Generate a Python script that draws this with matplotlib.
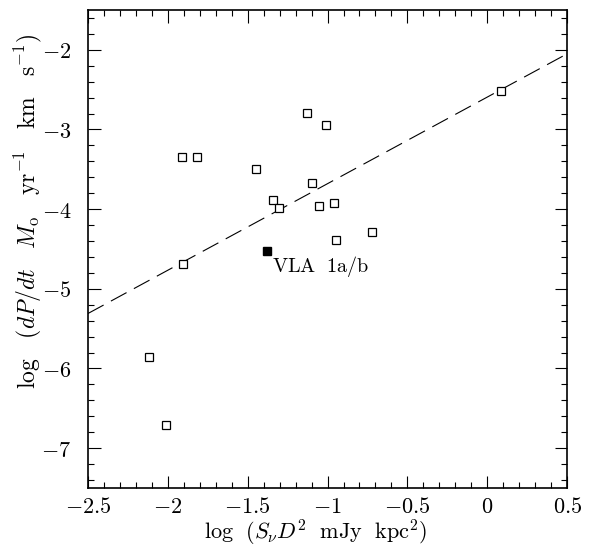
import matplotlib
matplotlib.use('Agg')
import matplotlib.pyplot as plt
from matplotlib.ticker import MultipleLocator, FuncFormatter

# open squares
sx = [0.084, -1.131, -1.010, -1.913, -1.815, -1.448, -1.099, -1.340, -1.302,
      -1.052, -0.960, -0.947, -0.720, -1.907, -2.118, -2.012]
sy = [-2.52, -2.79, -2.95, -3.34, -3.34, -3.49, -3.67, -3.88, -3.99,
      -3.96, -3.92, -4.39, -4.29, -4.69, -5.86, -6.71]

# VLA 1a/b
vla_x = -1.381
vla_y = -4.53

# fit line end points
line_x = [-2.5, 0.5]
line_y = [-5.31, -2.05]

plt.rcParams['mathtext.fontset'] = 'cm'
plt.rcParams['font.family'] = 'DejaVu Serif'

fig = plt.figure(figsize=(5.92, 5.48), dpi=100)
ax = fig.add_axes([0.1486, 0.1095, 0.8094, 0.8723])

ax.plot(line_x, line_y, color='k', lw=0.8, dashes=(16, 7.5))
ax.plot(sx, sy, 's', ms=6, mfc='white', mec='k', mew=0.9, ls='none')
ax.plot(vla_x, vla_y, 's', ms=5.5, mfc='k', mec='k', ls='none')
ax.text(-1.345, -4.72, r'$\rm VLA\ \ 1a/b$', fontsize=14.5, ha='left', va='center')

ax.set_xlim(-2.5, 0.5)
ax.set_ylim(-7.5, -1.5)
ax.xaxis.set_major_locator(MultipleLocator(0.5))
ax.xaxis.set_minor_locator(MultipleLocator(0.1))
ax.yaxis.set_major_locator(MultipleLocator(1))
ax.yaxis.set_minor_locator(MultipleLocator(0.2))
fmt = FuncFormatter(lambda v, p: r'$%g$' % v)
ax.xaxis.set_major_formatter(fmt)
ax.yaxis.set_major_formatter(fmt)
ax.tick_params(which='both', direction='in', top=True, right=True, width=0.8)
ax.tick_params(which='major', length=9, labelsize=16)
ax.tick_params(axis='x', which='major', pad=6)
ax.tick_params(axis='y', which='major', pad=12)
ax.tick_params(which='minor', length=4.5)
for s in ax.spines.values():
    s.set_linewidth(1.2)

ax.set_xlabel(r'$\rm log\ \ (\mathit{S}_{\nu}\mathit{D}^2\ \ mJy\ \ kpc^2)$', fontsize=16, va='bottom')
ax.xaxis.set_label_coords(0.476, -0.126)
ax.set_ylabel(r'$\rm log\ \ \ (\mathit{dP/dt}\ \ \ \mathit{M}_o\ \ \ yr^{-1}\ \ \ km\ \ \ s^{-1})$',
              fontsize=17, va='center')
ax.yaxis.set_label_coords(-0.125, 0.578)

fig.savefig('out.png', dpi=100)
